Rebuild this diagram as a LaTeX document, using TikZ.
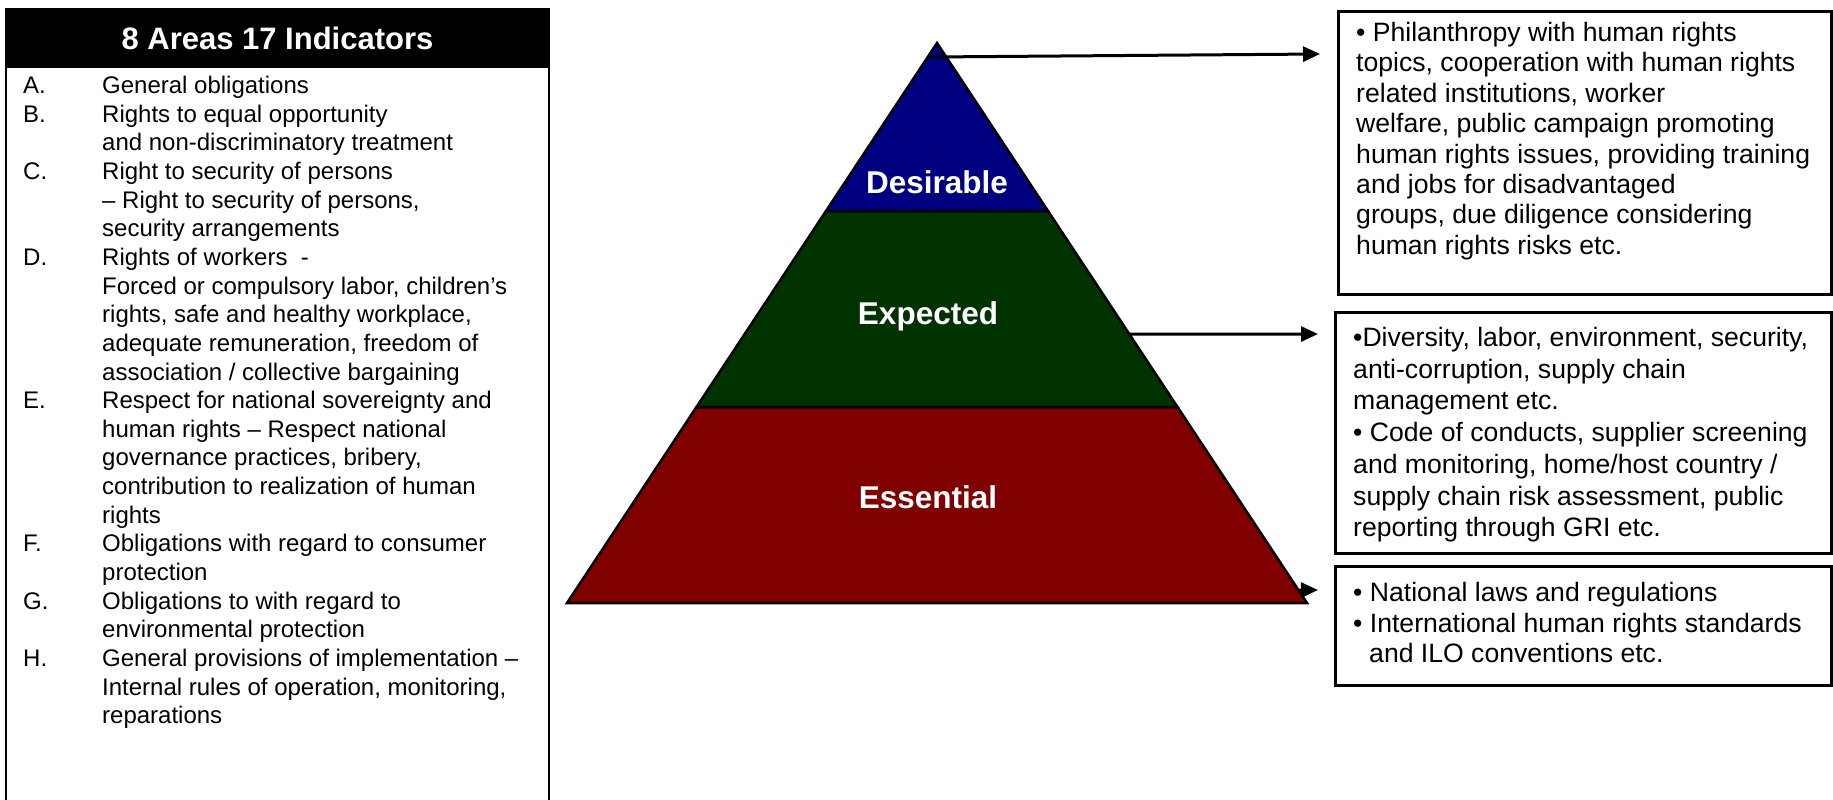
\documentclass[tikz,border=0pt]{standalone}
\usepackage{fontspec}
\setmainfont{Liberation Sans}
\usetikzlibrary{arrows.meta,calc}
\definecolor{navyc}{RGB}{0,0,128}
\definecolor{greenc}{RGB}{0,51,0}
\definecolor{redc}{RGB}{128,0,0}
\begin{document}
\begin{tikzpicture}[x=1pt,y=-1pt,
  listtxt/.style={anchor=base west, inner sep=0pt, font=\fontsize{24}{28}\selectfont},
  boxtxt/.style={anchor=base west, inner sep=0pt, font=\fontsize{26.6}{30}\selectfont},
  lvl/.style={text=white, inner sep=0pt, font=\fontsize{31.5}{36}\selectfont\bfseries},
  band/.style={draw=black, line width=2.5pt, line join=miter},
  infobox/.style={draw=black, line width=3pt, inner sep=0pt, anchor=north west},
  arr/.style={line width=3pt, -{Triangle[length=17pt,width=15pt]}}
]
\fill[white] (0,0) rectangle (1833,800);
\useasboundingbox (0,0) rectangle (1833,800);

% ---------- left box ----------
\draw[line width=2.5pt] (6,800) -- (6,9) -- (549,9) -- (549,800);
\node[fill=black, minimum width=543pt, minimum height=59pt, inner sep=0pt,
      text=white, font=\fontsize{31}{36}\selectfont\bfseries] (title) at (277.5,38.5) {8 Areas 17 Indicators};

\foreach \t [count=\i from 0] in {
 {General obligations},
 {Rights to equal opportunity},
 {and non-discriminatory treatment},
 {Right to security of persons},
 {– Right to security of persons,},
 {security arrangements},
 {Rights of workers \ -},
 {Forced or compulsory labor, children’s},
 {rights, safe and healthy workplace,},
 {adequate remuneration, freedom of},
 {association / collective bargaining},
 {Respect for national sovereignty and},
 {human rights – Respect national},
 {governance practices, bribery,},
 {contribution to realization of human},
 {rights},
 {Obligations with regard to consumer},
 {protection},
 {Obligations to with regard to},
 {environmental protection},
 {General provisions of implementation –},
 {Internal rules of operation, monitoring,},
 {reparations}}
 {\node[listtxt] (l\i) at (102,93.5+28.65*\i) {\t};}

\foreach \l/\i in {A/0,B/1,C/3,D/6,E/11,F/16,G/18,H/20}
 {\node[listtxt] (let\l) at (23,93.5+28.65*\i) {\l.};}

% ---------- pyramid ----------
\coordinate (apex) at (937,43);
\coordinate (bl) at (567,603);
\coordinate (br) at (1307,603);
\coordinate (l1) at ($(apex)!0.3!(bl)$);
\coordinate (r1) at ($(apex)!0.3!(br)$);
\coordinate (l2) at ($(apex)!0.65!(bl)$);
\coordinate (r2) at ($(apex)!0.65!(br)$);
\filldraw[band, fill=redc] (l2) -- (r2) -- (br) -- (bl) -- cycle;
\filldraw[band, fill=greenc] (l1) -- (r1) -- (r2) -- (l2) -- cycle;
\filldraw[band, fill=navyc] (apex) -- (r1) -- (l1) -- cycle;

\node[lvl] (des) at (937,182) {Desirable};
\node[lvl] (exp) at (928,316) {Expected};
\node[lvl] (ess) at (928,497) {Essential};

% ---------- right boxes ----------
\node[infobox, minimum width=493pt, minimum height=283pt] (box1) at (1337,10) {};
\node[infobox, minimum width=496pt, minimum height=241pt] (box2) at (1334,311) {};
\node[infobox, minimum width=496pt, minimum height=119pt] (box3) at (1334,565) {};

\foreach \t [count=\i from 0] in {
 {• Philanthropy with human rights},
 {topics, cooperation with human rights},
 {related institutions, worker},
 {welfare, public campaign promoting},
 {human rights issues, providing training},
 {and jobs for disadvantaged},
 {groups, due diligence considering},
 {human rights risks etc.}}
 {\node[boxtxt] (p\i) at (1356,41.5+30.4*\i) {\t};}

\foreach \t [count=\i from 0] in {
 {•Diversity, labor, environment, security,},
 {anti-corruption, supply chain},
 {management etc.},
 {• Code of conducts, supplier screening},
 {and monitoring, home/host country /},
 {supply chain risk assessment, public},
 {reporting through GRI etc.}}
 {\node[boxtxt] (q\i) at (1353,346.5+31.7*\i) {\t};}

\node[boxtxt] (r0) at (1353,601.5) {• National laws and regulations};
\node[boxtxt] (r1t) at (1353,632) {• International human rights standards};
\node[boxtxt] (r2t) at (1369,662.5) {and ILO conventions etc.};

% ---------- arrows ----------
\coordinate (a1s) at (931,57);
\coordinate (a1e) at (1320,54);
\coordinate (a2s) at ($(apex)!0.52!(br)$);
\coordinate (a2e) at (1318,334);
\coordinate (a3s) at ($(apex)!0.977!(br)$);
\coordinate (a3e) at (1318,590);
\draw[arr] (a1s) -- (a1e);
\draw[arr] (a2s) -- (a2e);
\draw[arr] (a3s) -- (a3e);
\end{tikzpicture}
\end{document}
